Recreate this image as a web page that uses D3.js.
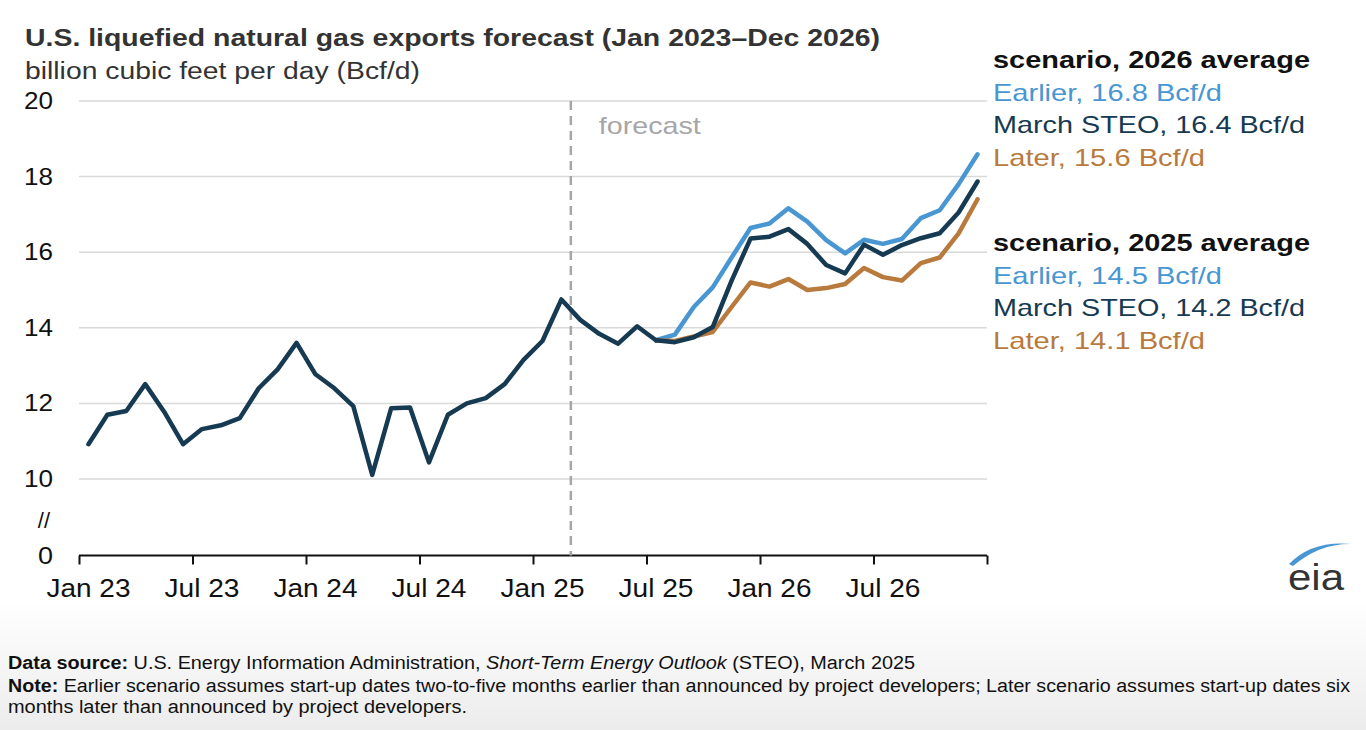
<!DOCTYPE html>
<html><head><meta charset="utf-8">
<script src="https://cdn.jsdelivr.net/npm/d3@7"></script>
<style>
body{margin:0;background:#fff;font-family:"Liberation Sans",Arial,sans-serif;}
</style></head>
<body><svg id="c" width="1366" height="730"></svg>
<script>
// monthly, Jan 2023 .. Dec 2026
const history = [10.92,11.70,11.80,12.51,11.78,10.92,11.32,11.42,11.61,12.40,12.90,13.60,
  12.77,12.40,11.93,10.11,11.87,11.89,10.44,11.70,12.00,12.14,12.51,13.15,
  13.65,14.75,14.21,13.84,13.58,14.04,13.67];
const steo = [13.67,13.62,13.75,14.02,15.25,16.36,16.41,16.61,16.22,15.66,15.44,16.20,15.93,16.19,16.37,16.50,17.05,17.87];
const earlier = [13.67,13.82,14.55,15.07,15.86,16.64,16.76,17.16,16.81,16.32,15.97,16.33,16.22,16.35,16.90,17.11,17.80,18.59];
const later = [13.67,13.65,13.77,13.89,14.55,15.20,15.09,15.29,15.00,15.05,15.16,15.58,15.34,15.25,15.71,15.86,16.50,17.40];
const scenarioStart = 30; // Jul 2025
const tickLabels = ["Jan 23","Jul 23","Jan 24","Jul 24","Jan 25","Jul 25","Jan 26","Jul 26"];
const yTicks = [10,12,14,16,18,20];
const legend2026 = ["Earlier, 16.8 Bcf/d","March STEO, 16.4 Bcf/d","Later, 15.6 Bcf/d"];
const legend2025 = ["Earlier, 14.5 Bcf/d","March STEO, 14.2 Bcf/d","Later, 14.1 Bcf/d"];

const C = {dark:"#163a52", blue:"#4896d2", brown:"#b87a3d", grid:"#d9d9d9"};
const svg = d3.select("#c");
// the reference font runs wider than Liberation, so stretch to measured widths
const fit = (sel,w) => sel.attr("textLength",w).attr("lengthAdjust","spacingAndGlyphs");

const x = d3.scaleLinear().domain([0,48]).range([79,987]);
const y = d3.scaleLinear().domain([0,10,20]).range([555.5,479,101]);

const grad = svg.append("defs").append("linearGradient").attr("id","bg").attr("x1",0).attr("x2",0).attr("y1",0).attr("y2",1);
grad.append("stop").attr("offset","0").attr("stop-color","#fff");
grad.append("stop").attr("offset","1").attr("stop-color","#ececec");
svg.append("rect").attr("x",0).attr("y",600).attr("width",1366).attr("height",130).attr("fill","url(#bg)");

fit(svg.append("text").attr("x",25).attr("y",46).attr("font-size",23).attr("font-weight","bold").attr("fill","#333")
  .text("U.S. liquefied natural gas exports forecast (Jan 2023\u2013Dec 2026)"),855);
fit(svg.append("text").attr("x",25).attr("y",79).attr("font-size",23).attr("fill","#333")
  .text("billion cubic feet per day (Bcf/d)"),395);

svg.append("g").selectAll("line").data(yTicks).join("line")
  .attr("x1",79).attr("x2",987).attr("y1",d=>y(d)).attr("y2",d=>y(d))
  .attr("stroke",C.grid).attr("stroke-width",1.5);
svg.append("g").selectAll("text").data(yTicks.concat([0])).join("text")
  .attr("x",53).attr("y",d=>y(d)+8).attr("text-anchor","end").attr("font-size",24).attr("fill","#111")
  .attr("textLength",d=>d===0?15:29).attr("lengthAdjust","spacingAndGlyphs")
  .text(d=>d);
svg.append("text").attr("x",50).attr("y",528).attr("text-anchor","end").attr("font-size",22).attr("fill","#111").text("//");

const xAxis = d3.axisBottom(x).tickValues(d3.range(0,49,6)).tickSize(9).tickFormat("");
const ax = svg.append("g").attr("transform",`translate(0,${y(0)})`).call(xAxis);
ax.select(".domain").attr("stroke","#111").attr("stroke-width",2).attr("d","M79,0H987");
ax.selectAll(".tick line").attr("stroke","#111").attr("stroke-width",2);
svg.append("g").selectAll("text").data(tickLabels).join("text")
  .attr("x",(d,i)=>x(i*6+0.5)).attr("y",597).attr("text-anchor","middle").attr("font-size",25).attr("fill","#111")
  .attr("textLength",d=>d.startsWith("Jul")?75:84).attr("lengthAdjust","spacingAndGlyphs")
  .text(d=>d);

svg.append("line").attr("x1",x(26)).attr("x2",x(26)).attr("y1",y(20)).attr("y2",y(0))
  .attr("stroke","#a6a6a6").attr("stroke-width",2.5).attr("stroke-dasharray","9,6");
fit(svg.append("text").attr("x",x(26)+28).attr("y",134).attr("font-size",24).attr("fill","#a6a6a6").text("forecast"),102);

const line = d3.line().x(d=>x(d[0]+0.5)).y(d=>y(d[1]));
const ser = (arr,off)=>arr.map((v,i)=>[i+off,v]);
[[earlier,C.blue],[later,C.brown],[steo,C.dark]].forEach(([a,c])=>{
  svg.append("path").attr("d",line(ser(a,scenarioStart))).attr("fill","none").attr("stroke",c)
    .attr("stroke-width",4.5).attr("stroke-linejoin","round").attr("stroke-linecap","round");
});
svg.append("path").attr("d",line(ser(history,0))).attr("fill","none").attr("stroke",C.dark)
  .attr("stroke-width",4.5).attr("stroke-linejoin","round").attr("stroke-linecap","round");

const cols=[C.blue,C.dark,C.brown];
const itemW=[229,312,212];
function block(title,items,y0){
  fit(svg.append("text").attr("x",993).attr("y",y0).attr("font-size",24).attr("font-weight","bold").attr("fill","#111").text(title),317);
  items.forEach((t,i)=>fit(svg.append("text").attr("x",993).attr("y",y0+32.5*(i+1)).attr("font-size",24).attr("fill",cols[i]).text(t),itemW[i]));
}
block("scenario, 2026 average",legend2026,68);
block("scenario, 2025 average",legend2025,251);

// eia logo
const lg = svg.append("g");
lg.append("path").attr("d","M1289,564 Q1312,540 1352,544 Q1320,543 1293,566 Z").attr("fill",C.blue);
fit(lg.append("text").attr("x",1288).attr("y",590).attr("font-size",36).attr("fill","#333").text("eia"),56);

const foot = svg.append("g").attr("font-size",18).attr("fill","#111");
let t = foot.append("text").attr("x",8).attr("y",669);
t.append("tspan").attr("font-weight","bold").text("Data source: ");
t.append("tspan").text("U.S. Energy Information Administration, ");
t.append("tspan").attr("font-style","italic").text("Short-Term Energy Outlook");
t.append("tspan").text(" (STEO), March 2025");
fit(t,907);
t = foot.append("text").attr("x",8).attr("y",692);
t.append("tspan").attr("font-weight","bold").text("Note: ");
t.append("tspan").text("Earlier scenario assumes start-up dates two-to-five months earlier than announced by project developers; Later scenario assumes start-up dates six");
fit(t,1342);
fit(foot.append("text").attr("x",8).attr("y",713).text("months later than announced by project developers."),459);
</script></body></html>
